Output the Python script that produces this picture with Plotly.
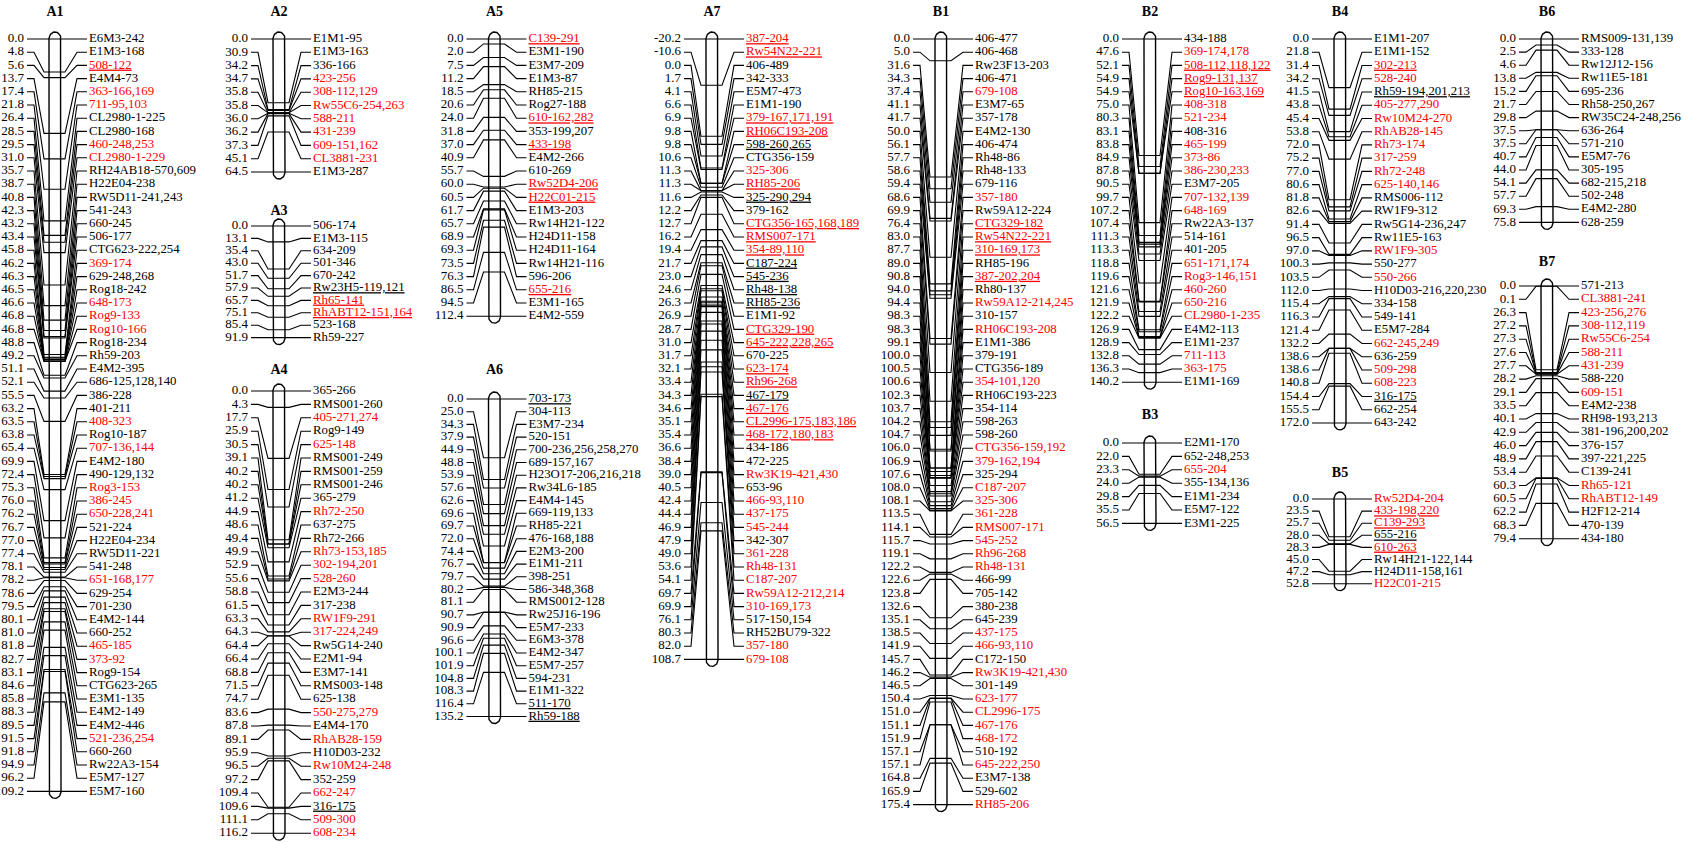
import numpy as np
import plotly.graph_objects as go

# ---------------------------------------------------------------------------
# linkage groups: position (cM), locus name, class of the locus
# class codes: k = black, r = red, ku / ru = same but underlined
# ---------------------------------------------------------------------------
A1_cM = [0.0, 4.8, 5.6, 13.7, 17.4, 21.8, 26.4, 28.5, 29.5, 31.0, 35.7, 38.7,
         40.8, 42.3, 43.2, 43.4, 45.8, 46.2, 46.3, 46.5, 46.6, 46.8, 46.8, 48.8,
         49.2, 51.1, 52.1, 55.5, 63.2, 63.5, 63.8, 65.4, 69.9, 72.4, 75.3, 76.0,
         76.2, 76.7, 77.0, 77.4, 78.1, 78.2, 78.6, 79.5, 80.1, 81.0, 81.8, 82.7,
         83.1, 84.6, 85.8, 88.3, 89.5, 91.5, 91.8, 94.9, 96.2, 109.2]
A1_loci = ["E6M3-242", "E1M3-168", "508-122", "E4M4-73", "363-166,169", "711-95,103",
           "CL2980-1-225", "CL2980-168", "460-248,253", "CL2980-1-229",
           "RH24AB18-570,609", "H22E04-238", "RW5D11-241,243", "541-243", "660-245",
           "506-177", "CTG623-222,254", "369-174", "629-248,268", "Rog18-242",
           "648-173", "Rog9-133", "Rog10-166", "Rog18-234", "Rh59-203", "E4M2-395",
           "686-125,128,140", "386-228", "401-211", "408-323", "Rog10-187",
           "707-136,144", "E4M2-180", "490-129,132", "Rog3-153", "386-245",
           "650-228,241", "521-224", "H22E04-234", "RW5D11-221", "541-248",
           "651-168,177", "629-254", "701-230", "E4M2-144", "660-252", "465-185",
           "373-92", "Rog9-154", "CTG623-265", "E3M1-135", "E4M2-149", "E4M2-446",
           "521-236,254", "660-260", "Rw22A3-154", "E5M7-127", "E5M7-160"]
A1_cls = ("k k ru k r r k k r r k k k k k k k r k k r r r k k k k k k r k r k k r r "
          "r k k k k r k k k k r r k k k k k r k k k k").split()

A2_cM = [0.0, 30.9, 34.2, 34.7, 35.8, 35.8, 36.0, 36.2, 37.3, 45.1, 64.5]
A2_loci = ["E1M1-95", "E1M3-163", "336-166", "423-256", "308-112,129", "Rw55C6-254,263",
           "588-211", "431-239", "609-151,162", "CL3881-231", "E1M3-287"]
A2_cls = "k k k r r r r r r r k".split()

A3_cM = [0.0, 13.1, 35.4, 43.0, 51.7, 57.9, 65.7, 75.1, 85.4, 91.9]
A3_loci = ["506-174", "E1M3-115", "634-209", "501-346", "670-242", "Rw23H5-119,121",
           "Rh65-141", "RhABT12-151,164", "523-168", "Rh59-227"]
A3_cls = "k k k k k ku ru ru k k".split()

A4_cM = [0.0, 4.3, 17.7, 25.9, 30.5, 39.1, 40.2, 40.2, 41.2, 44.9, 48.6, 49.4, 49.9,
         52.9, 55.6, 58.8, 61.5, 63.3, 64.3, 64.4, 66.4, 68.8, 71.5, 74.7, 83.6, 87.8,
         89.1, 95.9, 96.5, 97.2, 109.4, 109.6, 111.1, 116.2]
A4_loci = ["365-266", "RMS001-260", "405-271,274", "Rog9-149", "625-148", "RMS001-249",
           "RMS001-259", "RMS001-246", "365-279", "Rh72-250", "637-275", "Rh72-266",
           "Rh73-153,185", "302-194,201", "528-260", "E2M3-244", "317-238", "RW1F9-291",
           "317-224,249", "Rw5G14-240", "E2M1-94", "E3M7-141", "RMS003-148", "625-138",
           "550-275,279", "E4M4-170", "RhAB28-159", "H10D03-232", "Rw10M24-248",
           "352-259", "662-247", "316-175", "509-300", "608-234"]
A4_cls = ("k k r k r k k k k r k k r r r k k r r k k k k k r k r k r k r ku r r").split()

A5_cM = [0.0, 2.0, 7.5, 11.2, 18.5, 20.6, 24.0, 31.8, 37.0, 40.9, 55.7, 60.0, 60.5,
         61.7, 65.7, 68.9, 69.3, 73.5, 76.3, 86.5, 94.5, 112.4]
A5_loci = ["C139-291", "E3M1-190", "E3M7-209", "E1M3-87", "RH85-215", "Rog27-188",
           "610-162,282", "353-199,207", "433-198", "E4M2-266", "610-269", "Rw52D4-206",
           "H22C01-215", "E1M3-203", "Rw14H21-122", "H24D11-158", "H24D11-164",
           "Rw14H21-116", "596-206", "655-216", "E3M1-165", "E4M2-559"]
A5_cls = "ru k k k k k ru k ru k k ru ru k k k k k k ru k k".split()

A6_cM = [0.0, 25.0, 34.3, 37.9, 44.9, 48.8, 53.9, 57.6, 62.6, 69.6, 69.7, 72.0, 74.4,
         76.7, 79.7, 80.2, 81.1, 90.7, 90.9, 96.6, 100.1, 101.9, 104.8, 108.3, 116.4,
         135.2]
A6_loci = ["703-173", "304-113", "E3M7-234", "520-151", "700-236,256,258,270",
           "689-157,167", "H23O17-206,216,218", "Rw34L6-185", "E4M4-145", "669-119,133",
           "RH85-221", "476-168,188", "E2M3-200", "E1M1-211", "398-251", "586-348,368",
           "RMS0012-128", "Rw25J16-196", "E5M7-233", "E6M3-378", "E4M2-347", "E5M7-257",
           "594-231", "E1M1-322", "511-170", "Rh59-188"]
A6_cls = ("ku k k k k k k k k k k k k k k k k k k k k k k k ku ku").split()

A7_cM = [-20.2, -10.6, 0.0, 1.7, 4.1, 6.6, 6.9, 9.8, 9.8, 10.6, 11.3, 11.3, 11.6, 12.2,
         12.7, 16.2, 19.4, 21.7, 23.0, 24.6, 26.3, 26.9, 28.7, 31.0, 31.7, 32.1, 33.4,
         34.3, 34.6, 35.1, 35.4, 36.6, 38.4, 39.0, 40.5, 42.4, 44.4, 46.9, 47.9, 49.0,
         53.6, 54.1, 69.7, 69.9, 76.1, 80.3, 82.0, 108.7]
A7_loci = ["387-204", "Rw54N22-221", "406-489", "342-333", "E5M7-473", "E1M1-190",
           "379-167,171,191", "RH06C193-208", "598-260,265", "CTG356-159", "325-306",
           "RH85-206", "325-290,294", "379-162", "CTG356-165,168,189", "RMS007-171",
           "354-89,110", "C187-224", "545-236", "Rh48-138", "RH85-236", "E1M1-92",
           "CTG329-190", "645-222,228,265", "670-225", "623-174", "Rh96-268", "467-179",
           "467-176", "CL2996-175,183,186", "468-172,180,183", "434-186", "472-225",
           "Rw3K19-421,430", "653-96", "466-93,110", "437-175", "545-244", "342-307",
           "361-228", "Rh48-131", "C187-207", "Rw59A12-212,214", "310-169,173",
           "517-150,154", "RH52BU79-322", "357-180", "679-108"]
A7_cls = ("ru ru k k k k ru ru ku k r ru ku k ru ru ru ku ku ku ku k ru ru k ru ru ku "
          "ru ru ru k k r k r r r k r r r r r k k r r").split()

B1_cM = [0.0, 5.0, 31.6, 34.3, 37.4, 41.1, 41.7, 50.0, 56.1, 57.7, 58.6, 59.4, 68.6,
         69.9, 76.4, 83.0, 87.7, 89.0, 90.8, 94.0, 94.4, 98.3, 98.3, 99.1, 100.0, 100.5,
         100.6, 102.3, 103.7, 104.2, 104.7, 106.0, 106.9, 107.6, 108.0, 108.1, 113.5,
         114.1, 115.7, 119.1, 122.2, 122.6, 123.8, 132.6, 135.1, 138.5, 141.9, 145.7,
         146.2, 146.5, 150.4, 151.0, 151.1, 151.9, 157.1, 157.1, 164.8, 165.9, 175.4]
B1_loci = ["406-477", "406-468", "Rw23F13-203", "406-471", "679-108", "E3M7-65",
           "357-178", "E4M2-130", "406-474", "Rh48-86", "Rh48-133", "679-116", "357-180",
           "Rw59A12-224", "CTG329-182", "Rw54N22-221", "310-169,173", "RH85-196",
           "387-202,204", "Rh80-137", "Rw59A12-214,245", "310-157", "RH06C193-208",
           "E1M1-386", "379-191", "CTG356-189", "354-101,120", "RH06C193-223", "354-114",
           "598-263", "598-260", "CTG356-159,192", "379-162,194", "325-294", "C187-207",
           "325-306", "361-228", "RMS007-171", "545-252", "Rh96-268", "Rh48-131", "466-99",
           "705-142", "380-238", "645-239", "437-175", "466-93,110", "C172-150",
           "Rw3K19-421,430", "301-149", "623-177", "CL2996-175", "467-176", "468-172",
           "510-192", "645-222,250", "E3M7-138", "529-602", "RH85-206"]
B1_cls = ("k k k k r k k k k k k k r k ru ru ru k ru k r k r k k k r k k k k r r k r r "
          "r r r r r k k k k r r k r k r r r r k r k k r").split()

B2_cM = [0.0, 47.6, 52.1, 54.9, 54.9, 75.0, 80.3, 83.1, 83.8, 84.9, 87.8, 90.5, 99.7,
         107.2, 107.4, 111.3, 113.3, 118.8, 119.6, 121.6, 121.9, 122.2, 126.9, 128.9,
         132.8, 136.3, 140.2]
B2_loci = ["434-188", "369-174,178", "508-112,118,122", "Rog9-131,137", "Rog10-163,169",
           "408-318", "521-234", "408-316", "465-199", "373-86", "386-230,233", "E3M7-205",
           "707-132,139", "648-169", "Rw22A3-137", "514-161", "401-205", "651-171,174",
           "Rog3-146,151", "460-260", "650-216", "CL2980-1-235", "E4M2-113", "E1M1-237",
           "711-113", "363-175", "E1M1-169"]
B2_cls = "k r ru ru ru r r k r r r k r r k k k r r r r r k k r r k".split()

B3_cM = [0.0, 22.0, 23.3, 24.0, 29.8, 35.5, 56.5]
B3_loci = ["E2M1-170", "652-248,253", "655-204", "355-134,136", "E1M1-234", "E5M7-122",
           "E3M1-225"]
B3_cls = "k k r k k k k".split()

B4_cM = [0.0, 21.8, 31.4, 34.2, 41.5, 43.8, 45.4, 53.8, 72.0, 75.2, 77.0, 80.6, 81.8,
         82.6, 91.4, 96.5, 97.0, 100.3, 103.5, 112.0, 115.4, 116.3, 121.4, 132.2, 138.6,
         138.6, 140.8, 154.4, 155.5, 172.0]
B4_loci = ["E1M1-207", "E1M1-152", "302-213", "528-240", "Rh59-194,201,213", "405-277,290",
           "Rw10M24-270", "RhAB28-145", "Rh73-174", "317-259", "Rh72-248", "625-140,146",
           "RMS006-112", "RW1F9-312", "Rw5G14-236,247", "Rw11E5-163", "RW1F9-305",
           "550-277", "550-266", "H10D03-216,220,230", "334-158", "549-141", "E5M7-284",
           "662-245,249", "636-259", "509-298", "608-223", "316-175", "662-254", "643-242"]
B4_cls = "k k ru r ku r r r r r r r k k k k r k r k k k k r k r r ku k k".split()

B5_cM = [0.0, 23.5, 25.7, 28.0, 28.3, 45.0, 47.2, 52.8]
B5_loci = ["Rw52D4-204", "433-198,220", "C139-293", "655-216", "610-263",
           "Rw14H21-122,144", "H24D11-158,161", "H22C01-215"]
B5_cls = "r ru ru ku ru k k r".split()

B6_cM = [0.0, 2.5, 4.6, 13.8, 15.2, 21.7, 29.8, 37.5, 37.5, 40.7, 44.0, 54.1, 57.7,
         69.3, 75.8]
B6_loci = ["RMS009-131,139", "333-128", "Rw12J12-156", "Rw11E5-181", "695-236",
           "Rh58-250,267", "RW35C24-248,256", "636-264", "571-210", "E5M7-76", "305-195",
           "682-215,218", "502-248", "E4M2-280", "628-259"]
B6_cls = "k k k k k k k k k k k k k k k".split()

B7_cM = [0.0, 0.1, 26.3, 27.2, 27.3, 27.6, 27.7, 28.2, 29.1, 33.5, 40.1, 42.9, 46.0,
         48.9, 53.4, 60.3, 60.5, 62.2, 68.3, 79.4]
B7_loci = ["571-213", "CL3881-241", "423-256,276", "308-112,119", "Rw55C6-254", "588-211",
           "431-239", "588-220", "609-151", "E4M2-238", "RH98-193,213",
           "381-196,200,202", "376-157", "397-221,225", "C139-241", "Rh65-121",
           "RhABT12-149", "H2F12-214", "470-139", "434-180"]
B7_cls = "k r r r r r r k r k k k k k k r r k k k".split()

# ---------------------------------------------------------------------------
# page layout (pixels): bar centre x, first row y, row pitch, title gap
# ---------------------------------------------------------------------------
W, H = 1687, 843
GROUPS = [
    ("A1", A1_cM, A1_loci, A1_cls, 55, 39, 13.2, 27),
    ("A2", A2_cM, A2_loci, A2_cls, 279, 39, 13.3, 27),
    ("A3", A3_cM, A3_loci, A3_cls, 279, 226, 12.4, 15),
    ("A4", A4_cM, A4_loci, A4_cls, 279, 391, 13.4, 21),
    ("A5", A5_cM, A5_loci, A5_cls, 494.5, 39, 13.2, 27),
    ("A6", A6_cM, A6_loci, A6_cls, 494.5, 399, 12.7, 29),
    ("A7", A7_cM, A7_loci, A7_cls, 712, 39, 13.2, 27),
    ("B1", B1_cM, B1_loci, B1_cls, 941, 39, 13.2, 27),
    ("B2", B2_cM, B2_loci, B2_cls, 1150, 39, 13.2, 27),
    ("B3", B3_cM, B3_loci, B3_cls, 1150, 443, 13.4, 28),
    ("B4", B4_cM, B4_loci, B4_cls, 1340, 39, 13.24, 27),
    ("B5", B5_cM, B5_loci, B5_cls, 1340, 499, 12.1, 26),
    ("B6", B6_cM, B6_loci, B6_cls, 1547, 39, 13.1, 27),
    ("B7", B7_cM, B7_loci, B7_cls, 1547, 286, 13.3, 24),
]

HALF = 6.0        # half width of the chromosome bar
CAP = 7.0         # height of the rounded ends
FONT = "Liberation Serif, Times New Roman, serif"
RED = "#ff0000"
BLACK = "#000000"

link_x, link_y = [], []
bar_x, bar_y = [], []
num_x, num_y, num_t = [], [], []
lab = {BLACK: ([], [], []), RED: ([], [], [])}
ttl_x, ttl_y, ttl_t = [], [], []

t = np.linspace(0, np.pi, 25)

for name, cms, loci, cls, cx, y0, dy, gap in GROUPS:
    n = len(cms)
    rows = y0 + dy * np.arange(n)
    lo, hi = min(cms), max(cms)
    span = dy * (n - 1)
    ticks = y0 + (np.array(cms) - lo) / (hi - lo) * span
    bl, br = cx - HALF, cx + HALF

    # connectors: label row -> bar tick -> label row
    for yl, yt in zip(rows, ticks):
        link_x += [bl - 22, bl - 15, bl - 5, bl, br, br + 4, br + 16, br + 26, None]
        link_y += [yl, yl, yt, yt, yt, yt, yl, yl, None]

    # bar outline with rounded ends
    yb = y0 + span
    bx = [bl, bl] + list(cx - HALF * np.cos(t)) + [br, br] + list(cx + HALF * np.cos(t))
    by = [y0, yb] + list(yb + CAP * np.sin(t)) + [yb, y0] + list(y0 - CAP * np.sin(t))
    bar_x += bx + [None]
    bar_y += by + [None]

    # left: cM values, right: locus names
    for v, yl in zip(cms, rows):
        num_x.append(bl - 25)
        num_y.append(yl)
        num_t.append(f"{v:.1f}")
    for loc, c, yl in zip(loci, cls, rows):
        col = RED if c.startswith("r") else BLACK
        txt = f"<u>{loc}</u>" if c.endswith("u") else loc
        lab[col][0].append(br + 28)
        lab[col][1].append(yl)
        lab[col][2].append(txt)

    ttl_x.append(cx)
    ttl_y.append(y0 - gap)
    ttl_t.append(f"<b>{name}</b>")

fig = go.Figure()
fig.add_trace(go.Scatter(x=link_x, y=link_y, mode="lines",
                         line=dict(color=BLACK, width=1.1), hoverinfo="skip"))
fig.add_trace(go.Scatter(x=bar_x, y=bar_y, mode="lines",
                         line=dict(color=BLACK, width=1.4), hoverinfo="skip"))
fig.add_trace(go.Scatter(x=num_x, y=num_y, text=num_t, mode="text",
                         textposition="middle left",
                         textfont=dict(family=FONT, size=13, color=BLACK),
                         hoverinfo="skip"))
for col, (xs, ys, ts) in lab.items():
    fig.add_trace(go.Scatter(x=xs, y=ys, text=ts, mode="text",
                             textposition="middle right",
                             textfont=dict(family=FONT, size=12.8, color=col),
                             hoverinfo="skip"))
fig.add_trace(go.Scatter(x=ttl_x, y=ttl_y, text=ttl_t, mode="text",
                         textposition="middle center",
                         textfont=dict(family=FONT, size=14, color=BLACK),
                         hoverinfo="skip"))

fig.update_layout(
    width=W, height=H,
    margin=dict(l=0, r=0, t=0, b=0),
    paper_bgcolor="white", plot_bgcolor="white",
    showlegend=False,
    xaxis=dict(range=[0, W], visible=False, fixedrange=True),
    yaxis=dict(range=[H, 0], visible=False, fixedrange=True),
)

fig.write_html("out.html", config={"displayModeBar": False},
               post_script="document.body.style.margin='0';")
